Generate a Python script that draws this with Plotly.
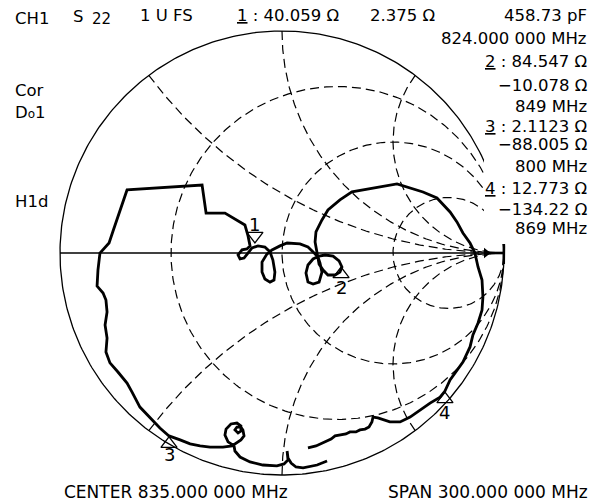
import numpy as np
import plotly.graph_objects as go

W, H = 597, 504

gamma_re = [0.203, 0.158, 0.095, 0.063, 0.041, 0.027, 0.023, 0.027, 0.009, -0.023,
            -0.086, -0.144, -0.189, -0.212, -0.216, -0.243, -0.257, -0.252, -0.230, -0.203,
            -0.185, -0.185, -0.198, -0.212, -0.203, -0.185, -0.176, -0.171, -0.185, -0.207,
            -0.225, -0.266, -0.324, -0.369, -0.414, -0.459, -0.509, -0.550, -0.595, -0.640,
            -0.676, -0.698, -0.739, -0.775, -0.793, -0.788, -0.797, -0.788, -0.793, -0.806,
            -0.833, -0.829, -0.820, -0.802, -0.779, -0.761, -0.698, -0.360, -0.342, -0.257,
            -0.167, -0.153, -0.144, -0.158, -0.180, -0.198, -0.189, -0.171, -0.153, -0.135,
            -0.108, -0.077, -0.054, -0.041, -0.032, -0.036, -0.054, -0.077, -0.090, -0.090,
            -0.068, -0.045, -0.009, 0.023, 0.081, 0.117, 0.140, 0.162, 0.171, 0.180,
            0.167, 0.140, 0.117, 0.108, 0.117, 0.140, 0.167, 0.194, 0.230, 0.257,
            0.270, 0.261, 0.239, 0.207, 0.185, 0.167, 0.158, 0.149, 0.153, 0.180,
            0.207, 0.261, 0.315, 0.410, 0.518, 0.635, 0.698, 0.757, 0.788, 0.815,
            0.847, 0.869, 0.883, 0.901, 0.905, 0.901, 0.883, 0.860, 0.847, 0.815,
            0.788, 0.757, 0.734, 0.712, 0.667, 0.622, 0.577, 0.532, 0.486, 0.432,
            0.410, 0.405, 0.392, 0.374, 0.351, 0.333, 0.306, 0.288, 0.261, 0.239,
            0.221, 0.203, 0.180, 0.153, 0.117]
gamma_im = [-0.937, -0.955, -0.968, -0.964, -0.946, -0.923, -0.892, -0.932, -0.950, -0.959,
            -0.955, -0.941, -0.919, -0.892, -0.869, -0.851, -0.820, -0.793, -0.770, -0.766,
            -0.779, -0.802, -0.811, -0.797, -0.784, -0.784, -0.797, -0.824, -0.842, -0.856,
            -0.869, -0.874, -0.874, -0.869, -0.860, -0.842, -0.824, -0.788, -0.743, -0.694,
            -0.626, -0.586, -0.536, -0.495, -0.446, -0.383, -0.324, -0.266, -0.212, -0.180,
            -0.149, -0.077, 0.000, 0.018, 0.045, 0.099, 0.284, 0.306, 0.180, 0.180,
            0.126, 0.077, 0.032, 0.018, 0.014, -0.009, -0.027, -0.023, 0.000, 0.023,
            0.032, 0.027, 0.005, -0.032, -0.086, -0.122, -0.131, -0.117, -0.086, -0.041,
            -0.005, 0.014, 0.032, 0.045, 0.041, 0.027, 0.005, -0.018, -0.045, -0.086,
            -0.131, -0.140, -0.131, -0.090, -0.054, -0.027, -0.014, -0.009, -0.014, -0.036,
            -0.063, -0.086, -0.099, -0.099, -0.077, -0.050, 0.000, 0.050, 0.095, 0.149,
            0.194, 0.239, 0.275, 0.293, 0.311, 0.275, 0.248, 0.185, 0.140, 0.090,
            0.045, 0.000, -0.063, -0.122, -0.198, -0.257, -0.315, -0.369, -0.423, -0.491,
            -0.527, -0.572, -0.622, -0.649, -0.676, -0.707, -0.739, -0.761, -0.761, -0.743,
            -0.739, -0.761, -0.784, -0.793, -0.797, -0.806, -0.806, -0.815, -0.820, -0.824,
            -0.838, -0.847, -0.856, -0.869, -0.878]

# markers (triangle positions) and their labels
marker_labels = ["1", "2", "3", "4"]
marker_re = [-0.122, 0.266, -0.509, 0.734]
marker_im = [0.077, -0.095, -0.860, -0.658]
marker_symbols = ["triangle-down-open", "triangle-up-open", "triangle-up-open", "triangle-up-open"]
marker_label_shift = [11, -13, -11, -13]

# Smith chart grid values
r_circles = [1 / 3, 1, 3]
x_arcs = [0.5, 1, 2, -0.5, -1, -2]

# readout texts
header_left = [("CH1", 15, 18.7), ("1 U FS", 140, 15.5), ("<u>1</u> : 40.059 Ω", 237, 15.5),
               ("2.375 Ω", 370, 15.5)]
right_column = [("458.73 pF", 15.3), ("824.000 000 MHz", 38.8), ("<u>2</u> : 84.547 Ω", 61.7),
                ("−10.078 Ω", 85.0), ("849 MHz", 106.5), ("<u>3</u> : 2.1123 Ω", 126.0),
                ("−88.005 Ω", 144.5), ("800 MHz", 166.5), ("<u>4</u> : 12.773 Ω", 188.0),
                ("−134.22 Ω", 209.5), ("869 MHz", 229.0)]
side_labels = [("Cor", 15, 90.5), ("D<span style='font-size:12px'>o</span>1", 15, 112),
               ("H1d", 15, 201.5)]
center_text = "CENTER 835.000 000 MHz"
span_text = "SPAN 300.000 000 MHz"

FONT = "DejaVu Sans"
FS = 16.5

fig = go.Figure()
grid = dict(color="black", width=1.2, dash="9px,5px")

# resistance circles
t = np.linspace(0, 2 * np.pi, 400)
for r in r_circles:
    c, rad = r / (1 + r), 1 / (1 + r)
    fig.add_trace(go.Scatter(x=c + rad * np.cos(t), y=rad * np.sin(t), mode="lines",
                             line=grid, hoverinfo="skip", showlegend=False))

# reactance arcs
for xv in x_arcs:
    R = 1 / abs(xv)
    cy = 1 / xv
    gr, gi = (xv * xv - 1) / (xv * xv + 1), 2 * xv / (xv * xv + 1)
    phi0 = -np.pi / 2 if xv > 0 else np.pi / 2
    phi1 = np.arctan2(gi - cy, gr - 1)
    if xv > 0 and phi1 > phi0:
        phi1 -= 2 * np.pi
    if xv < 0 and phi1 < phi0:
        phi1 += 2 * np.pi
    p = np.linspace(phi1, phi0, 300)
    fig.add_trace(go.Scatter(x=1 + R * np.cos(p), y=cy + R * np.sin(p), mode="lines",
                             line=grid, hoverinfo="skip", showlegend=False))

# outer circle and real axis
fig.add_trace(go.Scatter(x=np.cos(t), y=np.sin(t), mode="lines",
                         line=dict(color="black", width=1.3), hoverinfo="skip", showlegend=False))
fig.add_trace(go.Scatter(x=[-1, 0.92], y=[0, 0], mode="lines",
                         line=dict(color="black", width=1.3), hoverinfo="skip", showlegend=False))
fig.add_trace(go.Scatter(x=[0.92, 0.997], y=[0, 0], mode="lines",
                         line=dict(color="black", width=2.6), hoverinfo="skip", showlegend=False))
fig.add_trace(go.Scatter(x=[0.92], y=[0], mode="markers",
                         marker=dict(symbol="triangle-right", size=9, color="black"),
                         hoverinfo="skip", showlegend=False))
tb = np.linspace(-0.05, 0.05, 20)
fig.add_trace(go.Scatter(x=np.cos(tb), y=np.sin(tb), mode="lines",
                         line=dict(color="black", width=2.6), hoverinfo="skip", showlegend=False))

# measured trace
fig.add_trace(go.Scatter(x=gamma_re, y=gamma_im, mode="lines",
                         line=dict(color="black", width=2.8), showlegend=False))

# markers
fig.add_trace(go.Scatter(x=marker_re, y=marker_im, mode="markers",
                         marker=dict(symbol=marker_symbols, size=14, color="black",
                                     line=dict(width=1.3, color="black")),
                         showlegend=False))

def px(x, y):
    return x / W, 1 - y / H

ann = []
for lab, mx, my, sh in zip(marker_labels, marker_re, marker_im, marker_label_shift):
    ann.append(dict(text=lab, x=mx, y=my, xref="x", yref="y", yshift=sh, showarrow=False,
                    font=dict(family=FONT, size=18, color="black"), borderpad=0, borderwidth=0))

for txt, x, y in header_left + side_labels:
    ax, ay = px(x, y)
    ann.append(dict(text=txt, x=ax, y=ay, xanchor="left", yanchor="middle"))
sx, sy = px(73, 16.5)
ann.append(dict(text="S", x=sx, y=sy, xanchor="left", yanchor="middle"))
sx, sy = px(92, 19.5)
ann.append(dict(text="22", x=sx, y=sy, xanchor="left", yanchor="middle", font_size=15))
for txt, y in right_column:
    ax, ay = px(587, y)
    ann.append(dict(text=txt, x=ax, y=ay, xanchor="right", yanchor="middle"))
ax, ay = px(64, 491.5)
ann.append(dict(text=center_text, x=ax, y=ay, xanchor="left", yanchor="middle", font_size=17))
ax, ay = px(588, 491.5)
ann.append(dict(text=span_text, x=ax, y=ay, xanchor="right", yanchor="middle", font_size=17))

final = []
for a in ann:
    a.setdefault("xref", "paper")
    a.setdefault("yref", "paper")
    a.setdefault("showarrow", False)
    a.setdefault("borderpad", 0)
    a.setdefault("borderwidth", 0)
    f = dict(family=FONT, size=FS, color="black")
    if "font_size" in a:
        f["size"] = a.pop("font_size")
    a.setdefault("font", f)
    final.append(a)

x0, y0 = px(484, 160)
x1, y1 = px(597, 244)
fig.update_layout(
    width=W, height=H, autosize=False,
    margin=dict(l=0, r=0, t=0, b=0, pad=0),
    paper_bgcolor="white", plot_bgcolor="white",
    xaxis=dict(range=[-282 / 222, 315 / 222], visible=False, showgrid=False, zeroline=False),
    yaxis=dict(range=[-251 / 222, 253 / 222], visible=False, showgrid=False, zeroline=False),
    annotations=final,
    shapes=[dict(type="rect", xref="paper", yref="paper", x0=x0, x1=x1, y0=y1, y1=y0,
                 fillcolor="white", line=dict(width=0), layer="above")],
    showlegend=False,
)

fig.write_html("out.html", config={"displayModeBar": False},
               post_script="document.body.style.margin='0px';document.body.style.overflow='hidden';")
